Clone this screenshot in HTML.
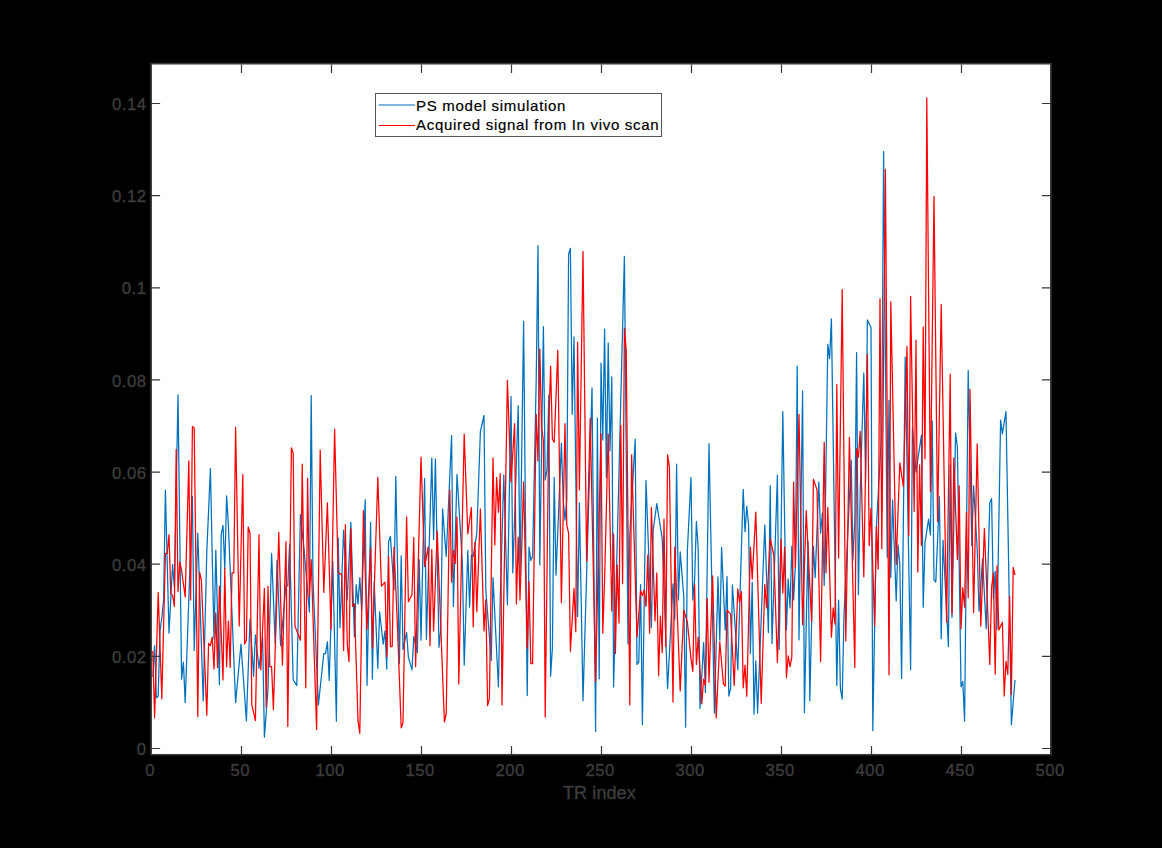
<!DOCTYPE html>
<html><head><meta charset="utf-8">
<style>
html,body{margin:0;padding:0;background:#000;}
body{width:1162px;height:848px;overflow:hidden;position:relative;font-family:"Liberation Sans",sans-serif;}
svg{position:absolute;left:0;top:0;}
.t{position:absolute;color:#3c3c3c;font-size:16.7px;line-height:16px;white-space:nowrap;letter-spacing:0.5px;-webkit-text-stroke:0.4px #3c3c3c;}
.yl{width:60px;text-align:right;left:86.5px;}
.xl{width:60px;text-align:center;}
#leg{position:absolute;left:374.5px;top:93px;width:285px;height:42px;background:#fff;border:1px solid #555;box-sizing:content-box;}
#leg div{position:absolute;left:40.6px;font-size:15px;line-height:16px;color:#000;white-space:nowrap;letter-spacing:0.7px;-webkit-text-stroke:0.2px #000;}
</style></head><body>
<svg width="1162" height="848" viewBox="0 0 1162 848">
<rect x="0" y="0" width="1162" height="848" fill="#000"/>
<rect x="151.7" y="64.2" width="898.5" height="689.8" fill="#fff"/>
<g fill="none" stroke-linejoin="round">
<polyline stroke="#0072BD" stroke-width="1.25" points="152.8,677.0 154.6,645.7 156.4,697.9 158.2,696.3 160.0,630.9 161.8,618.0 163.6,600.0 165.4,490.2 167.2,561.7 169.0,633.2 170.8,598.8 172.6,564.3 174.4,587.7 176.2,491.3 178.0,394.8 179.8,537.0 181.6,679.2 183.4,662.1 185.2,702.6 187.0,651.1 188.8,599.6 190.6,548.1 192.4,496.6 194.2,650.4 196.0,591.8 197.8,533.2 199.6,589.1 201.4,645.1 203.2,701.0 205.0,626.4 206.8,551.9 208.6,510.2 210.4,468.5 212.2,553.7 214.0,639.0 215.8,550.3 217.6,617.5 219.4,684.6 221.2,534.7 223.0,525.4 224.8,569.0 226.6,495.8 228.4,525.4 230.2,569.7 232.0,614.0 233.8,658.3 235.6,702.6 237.4,683.1 239.2,663.6 241.0,644.1 242.8,669.7 244.6,695.3 246.4,720.9 248.2,669.9 250.0,618.8 251.8,647.5 253.6,676.1 255.4,634.8 257.2,651.5 259.0,668.3 260.8,652.7 262.6,637.1 264.4,737.1 266.2,713.2 268.0,689.3 269.8,621.4 271.6,553.4 273.4,598.4 275.2,643.4 277.0,560.4 278.8,603.1 280.6,645.7 282.4,625.6 284.2,605.5 286.0,585.4 287.8,585.8 289.6,544.1 291.4,612.0 293.2,680.0 295.0,682.7 296.8,685.4 298.6,600.0 300.4,514.5 302.2,531.6 304.0,548.7 305.8,569.8 307.6,590.9 309.4,612.0 311.2,395.6 313.0,581.5 314.8,622.6 316.6,663.7 318.4,704.9 320.2,687.8 322.0,670.6 323.8,653.5 325.6,653.5 327.4,641.8 329.2,680.4 331.0,620.8 332.8,561.2 334.6,641.2 336.4,721.2 338.2,537.8 340.0,627.8 341.8,578.9 343.6,530.1 345.4,565.0 347.2,600.0 349.0,561.1 350.8,522.3 352.6,579.7 354.4,637.1 356.2,584.6 358.0,604.0 359.8,577.6 361.6,610.0 363.4,554.8 365.2,499.7 367.0,685.4 368.8,603.8 370.6,522.3 372.4,679.2 374.2,582.2 376.0,625.3 377.8,668.3 379.6,611.8 381.4,628.0 383.2,644.1 385.0,630.9 386.8,669.1 388.6,541.7 390.4,536.3 392.2,563.1 394.0,590.0 395.8,476.3 397.6,569.9 399.4,663.6 401.2,555.8 403.0,649.6 404.8,641.0 406.6,632.5 408.4,657.4 410.2,663.6 412.0,669.8 413.8,636.4 415.6,644.5 417.4,652.7 419.2,559.7 421.0,640.2 422.8,559.4 424.6,478.5 426.4,639.5 428.2,578.9 430.0,518.4 431.8,457.9 433.6,539.4 435.4,459.0 437.2,553.1 439.0,647.3 440.8,629.3 442.6,509.0 444.4,532.8 446.2,556.5 448.0,516.2 449.8,475.9 451.6,435.6 453.4,606.4 455.2,540.3 457.0,474.3 458.8,504.0 460.6,533.8 462.4,563.5 464.2,665.2 466.0,607.7 467.8,550.3 469.6,607.2 471.4,555.0 473.2,556.5 475.0,544.9 476.8,533.2 478.6,482.3 480.4,431.4 482.2,423.5 484.0,415.5 485.8,590.0 487.6,613.5 489.4,637.0 491.2,660.5 493.0,577.6 494.8,614.0 496.6,650.5 498.4,687.0 500.2,600.1 502.0,537.6 503.8,475.0 505.6,539.9 507.4,604.8 509.2,500.6 511.0,396.4 512.8,572.9 514.6,517.2 516.4,461.4 518.2,405.7 520.0,575.2 521.8,448.2 523.6,321.2 525.4,508.4 527.2,695.5 529.0,547.2 530.8,560.4 532.6,556.5 534.4,468.3 536.2,380.0 538.0,245.7 539.8,565.1 541.6,445.9 543.4,326.7 545.2,480.0 547.0,470.0 548.8,394.8 550.6,676.1 552.4,648.0 554.2,477.4 556.0,575.2 557.8,531.2 559.6,487.1 561.4,443.1 563.2,500.0 565.0,520.0 566.8,500.0 568.6,254.2 570.4,248.3 572.2,414.3 574.0,336.8 575.8,476.7 577.6,616.5 579.4,502.8 581.2,601.7 583.0,700.7 584.8,638.1 586.6,575.5 588.4,513.0 590.2,450.4 592.0,387.8 593.8,559.6 595.6,731.4 597.4,418.2 599.2,678.9 601.0,363.0 602.8,440.0 604.6,329.0 606.4,477.4 608.2,343.0 610.0,450.9 611.8,376.9 613.6,687.0 615.4,615.2 617.2,543.4 619.0,471.6 620.8,399.8 622.6,328.1 624.4,256.3 626.2,450.2 628.0,644.1 629.8,534.0 631.6,502.4 633.4,470.8 635.2,439.2 637.0,664.4 638.8,662.1 640.6,584.6 642.4,724.7 644.2,602.6 646.0,480.5 647.8,529.6 649.6,578.7 651.4,627.8 653.2,530.1 655.0,516.8 656.8,503.6 658.6,515.3 660.4,526.9 662.2,538.6 664.0,588.6 665.8,638.6 667.6,688.5 669.4,653.6 671.2,618.7 673.0,583.8 674.8,620.0 676.6,464.1 678.4,600.0 680.2,551.9 682.0,574.4 683.8,597.0 685.6,727.2 687.4,550.3 689.2,513.8 691.0,477.4 692.8,600.0 694.6,580.0 696.4,521.5 698.2,548.7 700.0,708.5 701.8,675.5 703.6,642.6 705.4,692.4 707.2,568.0 709.0,443.6 710.8,533.4 712.6,623.3 714.4,713.1 716.2,645.0 718.0,576.8 719.8,640.2 721.6,547.5 723.4,588.8 725.2,630.1 727.0,576.5 728.8,696.0 730.6,688.5 732.4,584.9 734.2,612.2 736.0,639.5 737.8,669.8 739.6,609.7 741.4,549.5 743.2,489.3 745.0,531.6 746.8,506.4 748.6,525.4 750.4,653.5 752.2,582.2 754.0,714.2 755.8,660.8 757.6,713.1 759.4,666.1 761.2,619.1 763.0,572.1 764.8,525.1 766.6,578.8 768.4,632.5 770.2,485.6 772.0,643.4 773.8,587.3 775.6,531.1 777.4,475.0 779.2,649.6 781.0,539.4 782.8,411.5 784.6,520.7 786.4,630.0 788.2,579.1 790.0,607.9 791.8,546.4 793.6,600.0 795.4,565.0 797.2,366.1 799.0,639.9 800.8,515.4 802.6,390.9 804.4,712.7 806.2,627.2 808.0,541.7 809.8,700.7 811.6,623.5 813.4,546.4 815.2,577.6 817.0,529.8 818.8,482.0 820.6,533.2 822.4,512.9 824.2,585.4 826.0,464.8 827.8,344.3 829.6,358.6 831.4,318.9 833.2,441.1 835.0,563.2 836.8,685.4 838.6,600.1 840.4,688.5 842.2,699.1 844.0,614.9 845.8,576.2 847.6,537.5 849.4,498.7 851.2,460.0 853.0,560.0 854.8,520.0 856.6,352.7 858.4,594.7 860.2,492.2 862.0,432.6 863.8,373.0 865.6,482.0 867.4,320.0 869.2,323.7 871.0,327.5 872.8,730.6 874.6,628.8 876.4,527.0 878.2,494.7 880.0,462.3 881.8,430.0 883.6,151.5 885.4,354.4 887.2,557.3 889.0,400.3 890.8,577.6 892.6,500.0 894.4,550.5 896.2,600.9 898.0,544.9 899.8,564.3 901.6,678.4 903.4,517.7 905.2,357.1 907.0,461.3 908.8,565.6 910.6,669.8 912.4,427.5 914.2,449.7 916.0,471.9 917.8,459.7 919.6,447.5 921.4,435.3 923.2,607.2 925.0,542.5 926.8,530.8 928.6,519.2 930.4,535.0 932.2,421.0 934.0,579.9 935.8,582.2 937.6,539.4 939.4,496.6 941.2,638.7 943.0,540.2 944.8,575.6 946.6,611.0 948.4,646.5 950.2,464.9 952.0,617.3 953.8,525.1 955.6,433.0 957.4,447.0 959.2,566.8 961.0,686.7 962.8,681.5 964.6,721.2 966.4,545.8 968.2,370.4 970.0,458.0 971.8,545.6 973.6,485.9 975.4,517.7 977.2,549.5 979.0,611.1 980.8,585.0 982.6,558.9 984.4,593.7 986.2,628.6 988.0,565.7 989.8,502.8 991.6,498.6 993.4,598.6 995.2,571.3 997.0,629.3 998.8,524.8 1000.6,420.2 1002.4,433.8 1004.2,422.6 1006.0,411.5 1007.8,515.9 1009.6,620.3 1011.4,724.7 1013.2,702.3 1015.0,680.0"/>
<polyline stroke="#FF0000" stroke-width="1.25" points="152.8,651.0 154.6,717.8 156.4,655.1 158.2,592.4 160.0,645.5 161.8,698.7 163.6,626.0 165.4,553.4 167.2,553.4 169.0,534.7 170.8,593.9 172.6,595.5 174.4,606.4 176.2,449.3 178.0,591.6 179.8,562.0 181.6,570.6 183.4,583.8 185.2,597.0 187.0,529.0 188.8,461.0 190.6,600.0 192.4,426.4 194.2,428.3 196.0,572.4 197.8,716.6 199.6,572.1 201.4,579.9 203.2,625.0 205.0,670.2 206.8,715.3 208.6,643.4 210.4,645.7 212.2,637.1 214.0,669.1 215.8,613.0 217.6,667.5 219.4,586.1 221.2,633.0 223.0,680.0 224.8,568.2 226.6,666.7 228.4,621.0 230.2,667.5 232.0,572.9 233.8,572.9 235.6,427.2 237.4,526.6 239.2,626.0 241.0,550.3 242.8,474.6 244.6,644.1 246.4,640.2 248.2,526.9 250.0,533.2 251.8,704.9 253.6,712.7 255.4,720.5 257.2,627.6 259.0,534.7 260.8,669.8 262.6,629.2 264.4,588.5 266.2,707.2 268.0,586.1 269.8,666.7 271.6,666.7 273.4,709.6 275.2,650.5 277.0,591.4 278.8,532.4 280.6,598.6 282.4,664.9 284.2,603.3 286.0,541.7 287.8,726.4 289.6,587.1 291.4,447.8 293.2,453.2 295.0,626.2 296.8,630.9 298.6,635.6 300.4,640.2 302.2,464.1 304.0,575.9 305.8,687.8 307.6,478.5 309.4,596.3 311.2,559.7 313.0,616.3 314.8,672.9 316.6,729.5 318.4,589.8 320.2,450.1 322.0,521.2 323.8,592.4 325.6,547.6 327.4,502.8 329.2,566.1 331.0,629.3 332.8,529.2 334.6,429.1 336.4,501.0 338.2,572.9 340.0,573.7 341.8,574.4 343.6,650.4 345.4,524.6 347.2,643.4 349.0,661.7 350.8,528.5 352.6,606.4 354.4,604.0 356.2,662.6 358.0,721.2 359.8,733.4 361.6,622.0 363.4,510.6 365.2,570.0 367.0,629.3 368.8,588.7 370.6,548.0 372.4,648.0 374.2,591.1 376.0,534.3 377.8,477.4 379.6,531.8 381.4,586.1 383.2,584.2 385.0,582.2 386.8,656.6 388.6,556.5 390.4,646.5 392.2,646.5 394.0,547.2 395.8,588.7 397.6,630.1 399.4,679.0 401.2,727.9 403.0,722.8 404.8,619.8 406.6,516.8 408.4,601.7 410.2,598.2 412.0,594.7 413.8,537.5 415.6,666.7 417.4,596.9 419.2,527.0 421.0,457.1 422.8,511.9 424.6,566.7 426.4,556.8 428.2,546.9 430.0,645.7 431.8,549.5 433.6,630.9 435.4,580.9 437.2,530.8 439.0,579.3 440.8,627.8 442.6,674.9 444.4,722.0 446.2,713.5 448.0,601.8 449.8,490.1 451.6,582.2 453.4,550.3 455.2,563.5 457.0,516.8 458.8,683.9 460.6,600.6 462.4,517.3 464.2,434.1 466.0,484.0 467.8,534.0 469.6,520.7 471.4,507.5 473.2,627.0 475.0,542.5 476.8,611.8 478.6,560.4 480.4,509.0 482.2,570.0 484.0,630.9 485.8,599.8 487.6,705.7 489.4,698.7 491.2,578.3 493.0,457.9 494.8,544.9 496.6,477.4 498.4,512.1 500.2,473.5 502.0,704.9 503.8,596.7 505.6,488.5 507.4,380.3 509.2,431.2 511.0,482.0 512.8,452.8 514.6,423.6 516.4,604.0 518.2,537.1 520.0,600.0 521.8,545.0 523.6,482.0 525.4,565.0 527.2,648.0 529.0,581.5 530.8,663.6 532.6,663.6 534.4,539.0 536.2,414.3 538.0,461.0 539.8,349.0 541.6,428.0 543.4,441.0 545.2,717.0 547.0,572.7 548.8,428.3 550.6,366.1 552.4,439.2 554.2,442.3 556.0,396.4 557.8,350.5 559.6,476.5 561.4,602.5 563.2,513.1 565.0,423.6 566.8,525.4 568.6,533.2 570.4,651.2 572.2,619.8 574.0,588.5 575.8,631.7 577.6,342.3 579.4,489.8 581.2,370.6 583.0,251.4 584.8,406.3 586.6,561.2 588.4,489.7 590.2,418.2 592.0,506.0 593.8,593.7 595.6,681.5 597.4,598.9 599.2,516.3 601.0,433.8 602.8,633.2 604.6,579.9 606.4,506.8 608.2,433.8 610.0,522.4 611.8,611.1 613.6,534.0 615.4,653.5 617.2,565.1 619.0,623.1 620.8,425.2 622.6,583.8 624.4,328.2 626.2,349.3 628.0,527.1 629.8,704.9 631.6,454.8 633.4,515.6 635.2,576.4 637.0,637.1 638.8,614.0 640.6,590.8 642.4,595.5 644.2,590.0 646.0,606.4 647.8,555.0 649.6,633.2 651.4,507.5 653.2,564.2 655.0,621.0 656.8,572.9 658.6,675.8 660.4,616.0 662.2,652.7 664.0,519.2 665.8,646.5 667.6,454.8 669.4,467.2 671.2,584.7 673.0,702.2 674.8,547.2 676.6,595.1 678.4,643.0 680.2,690.9 682.0,650.6 683.8,610.3 685.6,616.3 687.4,622.3 689.2,640.6 691.0,658.9 692.8,671.4 694.6,584.6 696.4,664.4 698.2,637.1 700.0,670.5 701.8,703.8 703.6,679.2 705.4,685.4 707.2,598.6 709.0,682.3 710.8,629.2 712.6,576.0 714.4,646.9 716.2,717.8 718.0,679.8 719.8,641.8 721.6,662.8 723.4,683.9 725.2,686.2 727.0,610.3 728.8,612.2 730.6,614.2 732.4,649.8 734.2,685.4 736.0,637.2 737.8,588.9 739.6,602.5 741.4,591.6 743.2,687.8 745.0,665.2 746.8,696.3 748.6,621.8 750.4,547.2 752.2,579.1 754.0,545.6 755.8,512.1 757.6,575.9 759.4,639.6 761.2,703.3 763.0,644.0 764.8,584.6 766.6,607.9 768.4,573.3 770.2,538.6 772.0,546.8 773.8,555.0 775.6,608.7 777.4,662.4 779.2,600.9 781.0,539.4 782.8,593.1 784.6,547.2 786.4,677.6 788.2,655.8 790.0,666.7 791.8,657.4 793.6,482.0 795.4,567.4 797.2,490.9 799.0,414.3 800.8,519.5 802.6,624.7 804.4,567.6 806.2,510.6 808.0,547.6 809.8,584.6 811.6,621.6 813.4,479.4 815.2,484.6 817.0,489.8 818.8,575.8 820.6,661.7 822.4,552.0 824.2,442.3 826.0,572.9 827.8,507.5 829.6,572.3 831.4,637.1 833.2,607.9 835.0,624.0 836.8,384.7 838.6,558.1 840.4,423.9 842.2,289.6 844.0,465.3 845.8,641.0 847.6,539.2 849.4,437.3 851.2,514.1 853.0,590.8 854.8,667.5 856.6,448.6 858.4,457.1 860.2,431.4 862.0,504.1 863.8,576.8 865.6,465.8 867.4,354.7 869.2,545.6 871.0,508.2 872.8,567.2 874.6,626.2 876.4,526.9 878.2,569.0 880.0,298.6 881.8,548.7 883.6,359.1 885.4,169.4 887.2,422.1 889.0,674.8 890.8,301.8 892.6,389.3 894.4,476.8 896.2,564.3 898.0,513.6 899.8,462.9 901.6,474.8 903.4,486.7 905.2,416.6 907.0,346.5 908.8,535.5 910.6,296.3 912.4,403.8 914.2,511.4 916.0,340.2 917.8,572.1 919.6,464.9 921.4,545.3 923.2,327.0 925.0,458.7 926.8,97.9 928.6,294.8 930.4,491.6 932.2,344.0 934.0,196.4 935.8,358.9 937.6,521.5 939.4,412.9 941.2,304.4 943.0,410.4 944.8,516.4 946.6,622.3 948.4,498.2 950.2,374.1 952.0,614.2 953.8,457.9 955.6,508.8 957.4,559.7 959.2,485.9 961.0,628.6 962.8,587.7 964.6,607.2 966.4,512.1 968.2,597.8 970.0,389.4 971.8,501.0 973.6,612.6 975.4,528.2 977.2,443.9 979.0,535.1 980.8,626.2 982.6,577.4 984.4,528.5 986.2,573.8 988.0,619.1 989.8,664.4 991.6,587.7 993.4,572.9 995.2,674.2 997.0,565.9 998.8,630.1 1000.6,626.2 1002.4,622.3 1004.2,696.0 1006.0,661.3 1007.8,674.5 1009.6,596.3 1011.4,694.8 1013.2,567.4 1015.0,575.2"/>
</g>
<rect x="151" y="63.6" width="899.9" height="691.1" fill="none" stroke="#3c3c3c" stroke-width="1.5"/>
<g stroke="#383838" stroke-width="1.2" fill="none">
<path d="M241.5 754.5v-8.6M331.5 754.5v-8.6M421.5 754.5v-8.6M511.5 754.5v-8.6M601.5 754.5v-8.6M691.5 754.5v-8.6M781.5 754.5v-8.6M871.5 754.5v-8.6M961.5 754.5v-8.6"/>
<path d="M241.5 64.5v8.6M331.5 64.5v8.6M421.5 64.5v8.6M511.5 64.5v8.6M601.5 64.5v8.6M691.5 64.5v8.6M781.5 64.5v8.6M871.5 64.5v8.6M961.5 64.5v8.6"/>
<path d="M151.5 748.5h8.6M151.5 656.4h8.6M151.5 564.2h8.6M151.5 472.1h8.6M151.5 379.9h8.6M151.5 287.8h8.6M151.5 195.7h8.6M151.5 103.5h8.6"/>
<path d="M1050.5 748.5h-8.6M1050.5 656.4h-8.6M1050.5 564.2h-8.6M1050.5 472.1h-8.6M1050.5 379.9h-8.6M1050.5 287.8h-8.6M1050.5 195.7h-8.6M1050.5 103.5h-8.6"/>
</g>
</svg>
<div class="t yl" style="top:742.1px">0</div>
<div class="t yl" style="top:650.0px">0.02</div>
<div class="t yl" style="top:557.8px">0.04</div>
<div class="t yl" style="top:465.7px">0.06</div>
<div class="t yl" style="top:373.5px">0.08</div>
<div class="t yl" style="top:281.4px">0.1</div>
<div class="t yl" style="top:189.3px">0.12</div>
<div class="t yl" style="top:97.1px">0.14</div>
<div class="t xl" style="left:120.2px;top:763.2px">0</div>
<div class="t xl" style="left:210.2px;top:763.2px">50</div>
<div class="t xl" style="left:300.2px;top:763.2px">100</div>
<div class="t xl" style="left:390.2px;top:763.2px">150</div>
<div class="t xl" style="left:480.2px;top:763.2px">200</div>
<div class="t xl" style="left:570.2px;top:763.2px">250</div>
<div class="t xl" style="left:660.2px;top:763.2px">300</div>
<div class="t xl" style="left:750.2px;top:763.2px">350</div>
<div class="t xl" style="left:840.2px;top:763.2px">400</div>
<div class="t xl" style="left:930.2px;top:763.2px">450</div>
<div class="t xl" style="left:1020.2px;top:763.2px">500</div>
<div class="t" style="left:563px;top:783.6px;font-size:18px;line-height:18px;letter-spacing:0.1px;">TR index</div>
<div id="leg">
<svg width="285" height="42" style="left:0;top:0"><path d="M2.7 11h36.4" stroke="#0072BD" stroke-width="1.2"/><path d="M2.7 31.5h36.4" stroke="#FF0000" stroke-width="1.1"/></svg>
<div style="top:4px">PS model simulation</div>
<div style="top:23.1px">Acquired signal from In vivo scan</div>
</div>
</body></html>
